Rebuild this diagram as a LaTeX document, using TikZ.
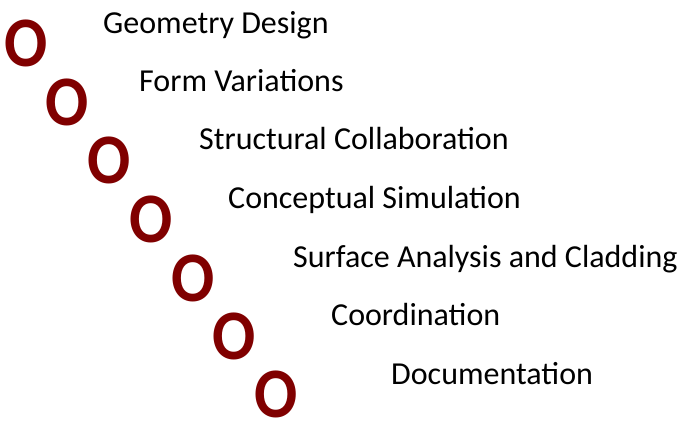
\documentclass[tikz,border=0pt]{standalone}
\usepackage{fontspec}
\setmainfont{Carlito}
\definecolor{maroon}{HTML}{800000}
\begin{document}
\begin{tikzpicture}[x=1pt,y=1pt,
  bigo/.style={inner sep=0pt,anchor=base,text=maroon,xscale=0.9,font=\fontsize{71}{71}\selectfont\bfseries},
  lbl/.style={inner sep=0pt,anchor=base west,text=black,font=\fontsize{32}{34}\selectfont}]
\useasboundingbox (0,0) rectangle (682,-421);
\foreach \i/\x/\y in {1/26/66.5,2/67/125,3/109/183.5,4/151/242,5/193/301,6/234/359.5,7/276/417}{
  \node[bigo] (o\i) at (\x,-\y) {O};
}
\node[lbl] (l1) at (103,-33) {Geometry Design};
\node[lbl] (l2) at (139,-91) {Form Variations};
\node[lbl] (l3) at (199,-149) {Structural Collaboration};
\node[lbl] (l4) at (228,-208) {Conceptual Simulation};
\node[lbl] (l5) at (293,-267) {Surface Analysis and Cladding};
\node[lbl] (l6) at (331,-325) {Coordination};
\node[lbl] (l7) at (391,-384) {Documentation};
\end{tikzpicture}
\end{document}
